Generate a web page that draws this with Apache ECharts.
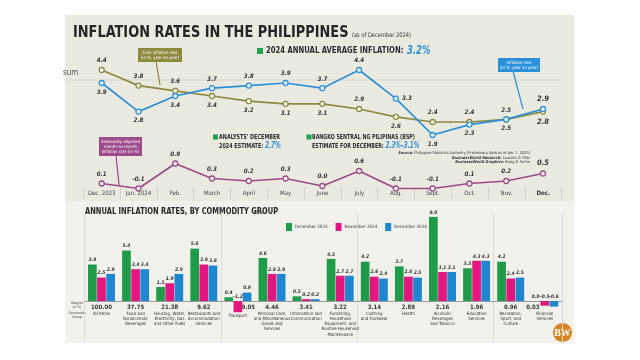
<!DOCTYPE html>
<html><head><meta charset="utf-8">
<script src="https://cdn.jsdelivr.net/npm/echarts@6/dist/echarts.min.js"></script>
<style>html,body{margin:0;padding:0;background:#fff}#c{width:640px;height:360px}</style>
</head><body><div id="c"></div>
<script>
// ---- data ----
const months = ['Dec. 2023','Jan. 2024','Feb.','March','April','May','June','July','Aug.','Sept.','Oct.','Nov.','Dec.'];
const headline = [3.9,2.8,3.4,3.7,3.8,3.9,3.7,4.4,3.3,1.9,2.3,2.5,2.9];
const core = [4.4,3.8,3.6,3.4,3.2,3.1,3.1,2.9,2.6,2.4,2.4,2.5,2.8];
const mom = [0.1,-0.1,0.9,0.3,0.2,0.3,0.0,0.6,-0.1,-0.1,0.1,0.2,0.5];
const groups = ['All Items','Food and\nNonalcoholic\nBeverages','Housing, Water,\nElectricity, Gas\nand Other Fuels','Restaurants and\nAccommodation\nServices','Transport','Personal Care,\nand Miscellaneous\nGoods and\nServices','Information and\nCommunication','Furnishing,\nHousehold\nEquipment, and\nRoutine Household\nMaintenance','Clothing\nand Footwear','Health','Alcoholic\nBeverages\nand Tobacco','Education\nServices','Recreation,\nSport, and\nCulture','Financial\nServices'];
const weights = [100.00,37.75,21.38,9.62,9.05,4.46,3.41,3.22,3.14,2.89,2.16,1.96,0.96,0.03];
const dec2023 = [3.9,5.4,1.5,5.6,0.4,4.6,0.5,4.5,4.2,3.7,9.0,3.5,4.2,0.0];
const nov2024 = [2.5,3.4,1.9,3.9,-1.2,2.9,0.2,2.7,2.6,2.6,3.1,4.3,2.4,-0.5];
const dec2024 = [2.9,3.4,2.9,3.8,0.9,2.9,0.2,2.7,2.4,2.5,3.1,4.3,2.5,-0.6];

// ---- styling ----
const F = "'DejaVu Sans Condensed', 'Liberation Sans Narrow', Roboto, sans-serif";
const BLUE = '#2b90da', OLIVE = '#8d8a3f', PURPLE = '#9c4a8a';
const GREEN = '#1f9b4a', MAG = '#e3167f', BBLUE = '#1e87d0';
const headlinePos = ['bottom','bottom','bottom','top','top','top','top','top','right','bottom','bottom','bottom','top'];
const corePos = ['top','top','top','bottom','bottom','bottom','bottom','top','bottom','top','top','top','bottom'];

function lineData(vals, pos) {
  return vals.map((v, i) => ({
    value: v,
    label: { position: pos ? pos[i] : 'top', fontSize: i === vals.length - 1 ? 7.5 : 6.2 }
  }));
}
function lineSeries(name, vals, pos, color, xi) {
  return {
    name, type: 'line', xAxisIndex: xi, yAxisIndex: xi,
    data: lineData(vals, pos),
    symbol: 'circle', symbolSize: 5,
    itemStyle: { color: '#fff', borderColor: color, borderWidth: 1.3 },
    lineStyle: { color, width: 1.7 },
    label: { show: true, distance: 3, fontStyle: 'italic', fontWeight: 'bold', color: '#333', fontFamily: F,
      formatter: p => p.value.toFixed(1) },
    emphasis: { disabled: true }, silent: true, animation: false, z: 3
  };
}
function barSeries(name, vals, color) {
  return {
    name, type: 'bar', xAxisIndex: 3, yAxisIndex: 3, data: vals, clip: false,
    barWidth: 8.7, barGap: '5%', itemStyle: { color },
    label: { show: true, position: 'top', distance: 2, fontSize: 4.9, fontStyle: 'italic', fontWeight: 'bold',
      color: '#333', fontFamily: F, formatter: p => p.value.toFixed(1) },
    animation: false, silent: true
  };
}
const wShift = { 4: 'wR', 13: 'wL' };

function txt(text, x, y, font, fill, sx) {
  return { type: 'text', x, y, scaleX: sx || 1, silent: true, style: { text, font, fill, verticalAlign: 'middle' } };
}
function ctxt(text, x, y, font, fill, lh) {
  return { type: 'text', x, y, silent: true, style: { text, font, fill, align: 'center', verticalAlign: 'middle', lineHeight: lh } };
}

const graphic = [
  { type: 'rect', shape: { x: 65, y: 15, width: 509, height: 186 }, style: { fill: '#ebeae1' }, z: -10, silent: true },
  { type: 'rect', shape: { x: 65, y: 201, width: 509, height: 142 }, style: { fill: '#f2f1eb' }, z: -10, silent: true },
  { type: 'line', shape: { x1: 65, y1: 80, x2: 560, y2: 80 }, style: { stroke: '#d8d7cc', lineWidth: 1 }, z: -9, silent: true },
  txt('sum', 63, 73, '8px ' + F, '#555'),
  txt('INFLATION RATES IN THE PHILIPPINES', 73, 33, 'bold 16.5px ' + F, '#262626', 0.87),
  txt('(as of December 2024)', 352, 35, '6.3px ' + F, '#333', 0.9),
  { type: 'rect', shape: { x: 257, y: 48, width: 6, height: 6 }, style: { fill: '#22a04b' }, silent: true },
  txt('2024 ANNUAL AVERAGE INFLATION:', 266, 51, 'bold 9.2px ' + F, '#2d2d2d', 0.83),
  txt('3.2%', 407, 50.5, 'italic bold 12px ' + F, BLUE, 0.78),
  // core box
  { type: 'line', shape: { x1: 156, y1: 61, x2: 160, y2: 85 }, style: { stroke: OLIVE, lineWidth: 1.2 }, silent: true },
  { type: 'rect', shape: { x: 138, y: 48, width: 44, height: 14 }, style: { fill: OLIVE }, silent: true },
  ctxt('Core inflation rate\n(in %, year on year)', 160, 55, '4.3px ' + F, '#fff', 5),
  // inflation box
  { type: 'line', shape: { x1: 513, y1: 71, x2: 523, y2: 109 }, style: { stroke: BLUE, lineWidth: 1.2 }, silent: true },
  { type: 'rect', shape: { x: 498, y: 58, width: 42, height: 14 }, style: { fill: BLUE }, silent: true },
  ctxt('Inflation rate\n(in %, year on year)', 519, 65, '4.3px ' + F, '#fff', 5),
  // mom box
  { type: 'line', shape: { x1: 116, y1: 155, x2: 119, y2: 185 }, style: { stroke: PURPLE, lineWidth: 1.2 }, silent: true },
  { type: 'rect', shape: { x: 99, y: 137, width: 43, height: 19 }, style: { fill: PURPLE }, silent: true },
  ctxt('Seasonally adjusted\nmonth-on-month\ninflation rate (in %)', 120.5, 146.5, '4.3px ' + F, '#fff', 5),
  // analysts
  { type: 'rect', shape: { x: 213, y: 134.5, width: 5, height: 5 }, style: { fill: '#22a04b' }, silent: true },
  { type: 'text', x: 219, y: 141.5, scaleX: 0.8, silent: true, style: { text: "ANALYSTS' DECEMBER\n2024 ESTIMATE: {b|2.7%}", font: 'bold 6.8px ' + F, fill: '#2d2d2d', verticalAlign: 'middle', lineHeight: 8.5,
    rich: { b: { font: 'italic bold 8px ' + F, fill: BLUE } } } },
  { type: 'rect', shape: { x: 306.5, y: 134.5, width: 5, height: 5 }, style: { fill: '#22a04b' }, silent: true },
  { type: 'text', x: 312, y: 141.5, scaleX: 0.78, silent: true, style: { text: 'BANGKO SENTRAL NG PILIPINAS (BSP)\nESTIMATE FOR DECEMBER: {b|2.3%–3.1%}', font: 'bold 6.8px ' + F, fill: '#2d2d2d', verticalAlign: 'middle', lineHeight: 8.5,
    rich: { b: { font: 'italic bold 8px ' + F, fill: BLUE } } } },
  // source
  { type: 'text', x: 530, y: 157.5, silent: true, style: { text: '{b|Source:} Philippine Statistics Authority (Preliminary data as of Jan. 7, 2025)\n{b|BusinessWorld Research:} Lourdes O. Pilar\n{b|BusinessWorld Graphics:} Bong R. Fortin',
    font: '3.9px ' + F, fill: '#333', align: 'right', verticalAlign: 'middle', lineHeight: 4.6,
    rich: { b: { font: 'italic bold 3.9px ' + F, fill: '#333' } } } },
  // bottom title
  txt('ANNUAL INFLATION RATES, BY COMMODITY GROUP', 85, 212, 'bold 8.5px ' + F, '#262626', 0.88),
  txt('(in %)', 254, 213, '4.5px ' + F, '#333'),
  ctxt('Weights\n(in %)', 77, 305, '3.4px ' + F, '#333', 4),
  ctxt('Commodity\nGroup', 77, 315, '3.4px ' + F, '#333', 4),
  // logo
  { type: 'circle', shape: { cx: 562.5, cy: 332.5, r: 9.5 }, style: { fill: '#d5841f' }, silent: true },
  ctxt('BW', 562.5, 333, 'bold 10px Liberation Serif', '#fff', 10)
];

const chart = echarts.init(document.getElementById('c'), null, { renderer: 'canvas' });
chart.setOption({
  animation: false,
  backgroundColor: '#ffffff',
  textStyle: { fontFamily: F },
  graphic,
  legend: {
    left: 286, top: 223, itemWidth: 6, itemHeight: 8, itemGap: 8, icon: 'rect', padding: 0,
    data: ['December 2023','November 2024','December 2024'],
    textStyle: { fontSize: 4.5, color: '#333', fontFamily: F, padding: [0,0,0,-2] }
  },
  grid: [
    { left: 101.7, width: 441.3, top: 64.8, height: 80.6, outerBoundsMode: 'none', containLabel: false },
    { left: 101.7, width: 441.3, top: 161, height: 32.5, outerBoundsMode: 'none', containLabel: false },
    { left: 83.3, width: 478.4, top: 187, height: 12, outerBoundsMode: 'none', containLabel: false },
    { left: 84.45, width: 477.4, top: 214.05, height: 86.95, outerBoundsMode: 'none', containLabel: false },
    { left: 84.45, width: 477.4, top: 214, height: 128, outerBoundsMode: 'none', containLabel: false }
  ],
  xAxis: [
    { gridIndex: 0, type: 'category', data: months, boundaryGap: false, show: false },
    { gridIndex: 1, type: 'category', data: months, boundaryGap: false, show: false },
    { gridIndex: 2, type: 'category', data: months, boundaryGap: true,
      axisLine: { show: false }, axisTick: { show: false },
      splitLine: { show: true, lineStyle: { color: '#d3d2c7', width: 1 } },
      axisLabel: { interval: 0, margin: -9, fontSize: 6, color: '#444', fontFamily: F,
        formatter: (v, i) => i === months.length - 1 ? '{b|' + v + '}' : v,
        rich: { b: { fontWeight: 'bold', fontSize: 6.2, color: '#333', fontFamily: F } } } },
    { gridIndex: 3, type: 'category', data: groups, boundaryGap: true,
      axisLine: { show: true, onZero: false, lineStyle: { color: '#9a9a9a', width: 1 } }, axisTick: { show: false },
      splitLine: { show: false },
      axisLabel: { interval: 0, margin: 2, color: '#333', fontFamily: F, hideOverlap: false,
        formatter: (v, i) => {
          const wk = wShift[i] || 'w';
          const nk = i === 4 ? 'nT' : 'n';
          return '{' + wk + '|' + weights[i].toFixed(2) + '}\n' + v.split('\n').map(s => '{' + nk + '|' + s + '}').join('\n');
        },
        rich: {
          w: { fontSize: 6, fontWeight: 'bold', color: '#333', lineHeight: 8, fontFamily: F },
          wR: { fontSize: 6, fontWeight: 'bold', color: '#333', lineHeight: 8, fontFamily: F, padding: [0,0,0,21] },
          wL: { fontSize: 6, fontWeight: 'bold', color: '#333', lineHeight: 8, fontFamily: F, padding: [0,24,0,0] },
          n: { fontSize: 4.4, color: '#333', lineHeight: 5.2, fontFamily: F },
          nT: { fontSize: 4.4, color: '#333', lineHeight: 5.2, fontFamily: F, padding: [4,0,0,0] }
        } } },
    { gridIndex: 4, type: 'category', data: groups, boundaryGap: true,
      axisLine: { show: false }, axisTick: { show: false }, axisLabel: { show: false },
      splitLine: { show: true, lineStyle: { color: '#dddcd3', width: 1 } } }
  ],
  yAxis: [
    { gridIndex: 0, type: 'value', min: 1.5, max: 4.6, show: false },
    { gridIndex: 1, type: 'value', min: -0.3, max: 1.0, show: false },
    { gridIndex: 2, type: 'value', show: false },
    { gridIndex: 3, type: 'value', min: 0, max: 9.3, show: false },
    { gridIndex: 4, type: 'value', min: 0, max: 1, show: false }
  ],
  series: [
    lineSeries('Core inflation rate', core, corePos, OLIVE, 0),
    lineSeries('Inflation rate', headline, headlinePos, BLUE, 0),
    lineSeries('Seasonally adjusted month-on-month inflation rate', mom, null, PURPLE, 1),
    barSeries('December 2023', dec2023, GREEN),
    barSeries('November 2024', nov2024, MAG),
    barSeries('December 2024', dec2024, BBLUE)
  ]
});
</script></body></html>
